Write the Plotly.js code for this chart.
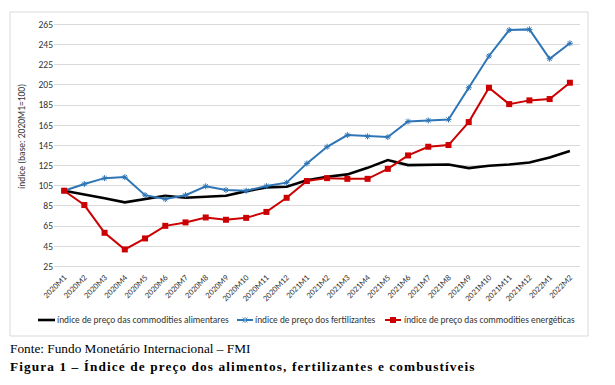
<!DOCTYPE html>
<html><head><meta charset="utf-8">
<script src="https://cdn.plot.ly/plotly-3.0.1.min.js"></script>
<style>html,body{margin:0;padding:0;background:#fff}#c{width:615px;height:385px}</style>
</head><body><div id="c"></div>
<script>
const months = ["2020M1","2020M2","2020M3","2020M4","2020M5","2020M6","2020M7","2020M8","2020M9","2020M10","2020M11","2020M12",
"2021M1","2021M2","2021M3","2021M4","2021M5","2021M6","2021M7","2021M8","2021M9","2021M10","2021M11","2021M12","2022M1","2022M2"];
const alimentares = [100,96.5,92.5,88.5,92,95,93,94,95,99.6,103.3,104,110.5,113.8,116.2,122.7,130.4,125.4,125.4,126,122.4,124.8,126,128,133,139.3];
const fertilizantes = [100,106.7,112.5,113.5,95.6,91.7,95.6,104.4,100.7,100,104.6,108,127.1,143.6,155.2,153.9,153.2,168.6,169.7,170.7,202.1,233.6,259.3,260,230.9,246.2];
const energeticas = [100,85.8,58.3,41.8,52.7,65.2,68.6,73.5,71.2,73.1,79,93,109.6,112.5,111.8,111.8,121.7,135,143.6,145.3,168.1,202.1,185.9,189.6,190.9,207.1];
const yTicks = [25,45,65,85,105,125,145,165,185,205,225,245,265];
const names = ["índice de preço das commodities alimentares","índice de preço dos fertilizantes","índice de preço das commodities energéticas"];
const colors = ['#000000','#2e75b6','#cc0000'];

const F = "Carlito, Calibri, 'Liberation Sans Narrow', sans-serif";
const SERIF = "'Times New Roman','Liberation Serif',serif";
// layout helpers: pixel -> paper coordinates (plot area x 54..580, y 20..270)
const L = 54, R = 35, T = 20, B = 115, W = 615, H = 385;
const pw = W - L - R, ph = H - T - B;
const px = v => (v - L) / pw;
const py = v => (H - B - v) / ph;

const data = [
 {x: months, y: alimentares, name: names[0], type:'scatter', mode:'lines', line:{color:colors[0], width:2.6}},
 {x: months, y: fertilizantes, name: names[1], type:'scatter', mode:'lines+markers', line:{color:colors[1], width:2}, marker:{symbol:'asterisk-open', size:5, color:colors[1], line:{width:1, color:'#5b9bd5'}}},
 {x: months, y: energeticas, name: names[2], type:'scatter', mode:'lines+markers', line:{color:colors[2], width:2}, marker:{symbol:'square', size:6, color:colors[2]}}
];

const legY = py(320);
const shapes = [
 {type:'rect', xref:'paper', yref:'paper', x0:px(10), x1:px(588), y0:py(336), y1:py(12), line:{color:'#d9d9d9', width:1}, fillcolor:'rgba(0,0,0,0)'},
 {type:'line', xref:'paper', yref:'paper', x0:px(38), x1:px(55), y0:legY, y1:legY, line:{color:colors[0], width:2.6}},
 {type:'line', xref:'paper', yref:'paper', x0:px(237), x1:px(253), y0:legY, y1:legY, line:{color:colors[1], width:2}},
 {type:'path', xref:'paper', yref:'paper', path:`M ${px(242.5)},${py(317.5)} L ${px(247.5)},${py(322.5)} M ${px(242.5)},${py(322.5)} L ${px(247.5)},${py(317.5)} M ${px(245)},${py(317)} L ${px(245)},${py(323)}`, line:{color:'#5b9bd5', width:1}},
 {type:'line', xref:'paper', yref:'paper', x0:px(385), x1:px(401), y0:legY, y1:legY, line:{color:colors[2], width:2}},
 {type:'rect', xref:'paper', yref:'paper', x0:px(390), x1:px(396), y0:py(323), y1:py(317), line:{width:0}, fillcolor:colors[2]}
];
const legFont = {family:F, size:9.4, color:'#333333'};
const annotations = [
 {xref:'paper', yref:'paper', x:px(55), y:legY, xanchor:'left', yanchor:'middle', showarrow:false, text:names[0], font:legFont},
 {xref:'paper', yref:'paper', x:px(253), y:legY, xanchor:'left', yanchor:'middle', showarrow:false, text:names[1], font:legFont},
 {xref:'paper', yref:'paper', x:px(402), y:legY, xanchor:'left', yanchor:'middle', showarrow:false, text:names[2], font:legFont},
 {xref:'paper', yref:'paper', x:px(22), y:py(137), xanchor:'center', yanchor:'middle', textangle:-90, showarrow:false, text:'índice (base: 2020M1=100)', font:{family:F, size:9.5, color:'#333333'}},
 {xref:'paper', yref:'paper', x:px(8), y:py(348), xanchor:'left', yanchor:'middle', showarrow:false, text:'Fonte: Fundo Monetário Internacional – FMI', font:{family:SERIF, size:13.3, color:'#000'}},
 {xref:'paper', yref:'paper', x:px(8), y:py(366), xanchor:'left', yanchor:'middle', showarrow:false, text:'<b>Figura 1 – Índice de preço dos alimentos, fertilizantes e combustíveis</b>', font:{family:SERIF, size:13.3, color:'#000'}}
];

const layout = {
 width:W, height:H, paper_bgcolor:'#fff', plot_bgcolor:'#fff',
 margin:{l:L, r:R, t:T, b:B},
 font:{family:F, color:'#333333', size:10},
 showlegend:false,
 xaxis:{type:'category', range:[-0.5,25.5], tickangle:-45, tickfont:{size:8.5, family:F, color:'#333333'}, showgrid:false, showline:false, ticks:'', zeroline:false},
 yaxis:{range:[21.4,269.3], tickvals:yTicks, ticktext:yTicks.map(String), showgrid:true, gridcolor:'#d9d9d9', gridwidth:1, zeroline:false, showline:false, ticks:'', tickfont:{size:9.6, family:F, color:'#333333'}},
 shapes: shapes,
 annotations: annotations
};
Plotly.newPlot('c', data, layout, {displayModeBar:false, staticPlot:true}).then(gd => {
  gd.querySelectorAll('.annotation-text').forEach(t => {
    if (t.textContent.indexOf('Figura') === 0) {
      const b0 = t.getBBox();
      t.style.letterSpacing = '1.1px';
      const b1 = t.getBBox();
      const x0 = parseFloat(t.getAttribute('x')) || 0;
      const nx = x0 + (b0.x - b1.x);
      t.setAttribute('x', nx);
      t.querySelectorAll('tspan[x]').forEach(s => s.setAttribute('x', nx));
    }
  });
});
</script></body></html>
